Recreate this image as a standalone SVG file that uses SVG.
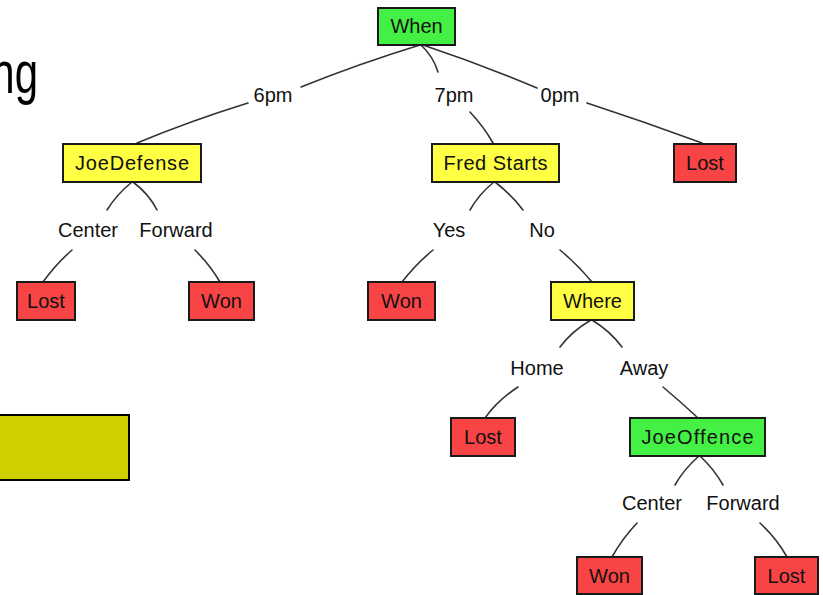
<svg xmlns="http://www.w3.org/2000/svg" width="823" height="595" viewBox="0 0 823 595">
<style>
.box{stroke:#1a1a1a;stroke-width:2}
.g{fill:#44F044}
.y{fill:#FFFF44}
.r{fill:#F84444}
.t{font-family:"Liberation Sans",Arial,sans-serif;font-size:20px;fill:#111;text-anchor:middle}
.e{font-family:"Liberation Sans",Arial,sans-serif;font-size:20px;fill:#111;text-anchor:middle}
.c{fill:none;stroke:#333;stroke-width:1.6;stroke-linecap:round}
</style>
<rect width="823" height="595" fill="#fff"/>
<g id="title-fragment" transform="translate(38,93) scale(0.7,1)">
<text x="0" y="0" font-family="Liberation Sans,Arial,sans-serif" font-size="60" text-anchor="end" fill="#000">ng</text>
</g>
<rect id="yellow-panel" x="-2" y="415" width="131" height="65" fill="#CFCF00" stroke="#000" stroke-width="2"/>
<g id="connectors">
<path class="c" d="M420 45 Q358 64 301 87"/>
<path class="c" d="M248 103 Q190 121 137 143"/>
<path class="c" d="M421 45 Q433 56 438 72"/>
<path class="c" d="M470 112 Q484 127 493 143"/>
<path class="c" d="M423 45 Q480 64 537 88"/>
<path class="c" d="M587 103 Q645 122 702 143"/>
<path class="c" d="M132 182 Q117 194 107 210"/>
<path class="c" d="M133 182 Q149 194 157 210"/>
<path class="c" d="M72 250 Q56 264 43 282"/>
<path class="c" d="M195 250 Q210 265 220 282"/>
<path class="c" d="M494 182 Q479 194 470 210"/>
<path class="c" d="M495 182 Q512 195 523 210"/>
<path class="c" d="M433 250 Q416 264 402 282"/>
<path class="c" d="M560 250 Q578 265 592 282"/>
<path class="c" d="M591 320 Q572 331 560 347"/>
<path class="c" d="M592 320 Q610 331 622 347"/>
<path class="c" d="M518 387 Q498 400 485 418"/>
<path class="c" d="M663 387 Q682 403 698 418"/>
<path class="c" d="M699 456 Q684 469 675 485"/>
<path class="c" d="M700 456 Q714 469 723 485"/>
<path class="c" d="M637 523 Q622 539 612 557"/>
<path class="c" d="M760 523 Q777 539 787 557"/>
</g>
<g id="edge-labels">
<text class="e" x="273" y="102">6pm</text>
<text class="e" x="454" y="102">7pm</text>
<text class="e" x="560" y="102">0pm</text>
<text class="e" x="88" y="237">Center</text>
<text class="e" x="176" y="237">Forward</text>
<text class="e" x="449" y="237">Yes</text>
<text class="e" x="542" y="237">No</text>
<text class="e" x="537" y="375">Home</text>
<text class="e" x="644" y="375">Away</text>
<text class="e" x="652" y="510">Center</text>
<text class="e" x="743" y="510">Forward</text>
</g>
<g id="node-when"><rect class="box g" x="378" y="8" width="77" height="37"/><text class="t" x="416.5" y="33">When</text></g>
<g id="node-joedefense"><rect class="box y" x="63" y="144" width="138" height="38"/><text class="t" x="132" y="170" textLength="114">JoeDefense</text></g>
<g id="node-fredstarts"><rect class="box y" x="432" y="144" width="127" height="38"/><text class="t" x="495.5" y="170" textLength="104">Fred Starts</text></g>
<g id="node-lost1"><rect class="box r" x="674" y="144" width="62" height="38"/><text class="t" x="705" y="170">Lost</text></g>
<g id="node-lost2"><rect class="box r" x="17" y="282" width="58" height="38"/><text class="t" x="46" y="308">Lost</text></g>
<g id="node-won1"><rect class="box r" x="189" y="282" width="65" height="38"/><text class="t" x="221.5" y="308">Won</text></g>
<g id="node-won2"><rect class="box r" x="368" y="282" width="67" height="38"/><text class="t" x="401.5" y="308">Won</text></g>
<g id="node-where"><rect class="box y" x="551" y="282" width="83" height="38"/><text class="t" x="592.5" y="308">Where</text></g>
<g id="node-lost3"><rect class="box r" x="451" y="418" width="64" height="38"/><text class="t" x="483" y="444">Lost</text></g>
<g id="node-joeoffence"><rect class="box g" x="630" y="418" width="135" height="38"/><text class="t" x="697.5" y="444" textLength="112">JoeOffence</text></g>
<g id="node-won3"><rect class="box r" x="577" y="557" width="65" height="37"/><text class="t" x="609.5" y="583">Won</text></g>
<g id="node-lost4"><rect class="box r" x="755" y="557" width="63" height="37"/><text class="t" x="786.5" y="583">Lost</text></g>
</svg>
